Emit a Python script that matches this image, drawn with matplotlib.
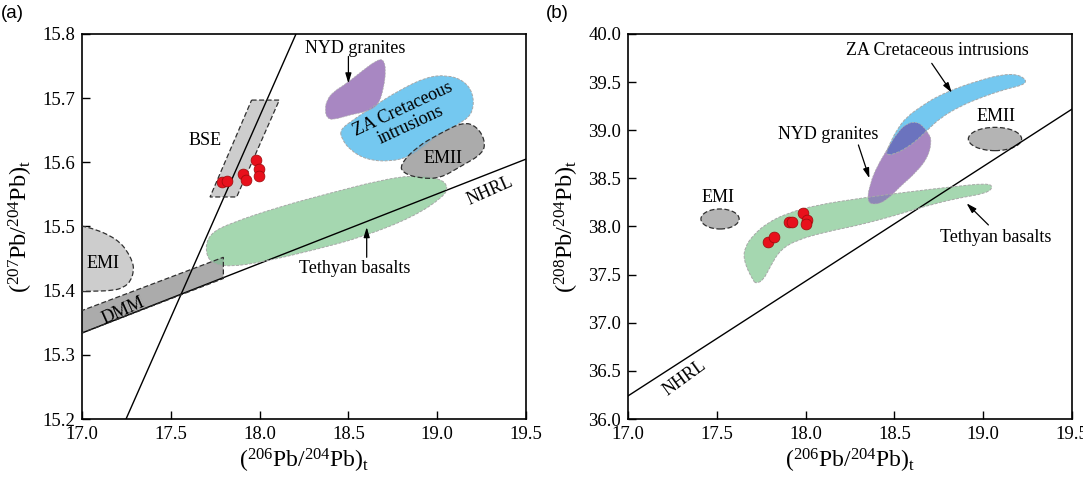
import numpy as np
import matplotlib
matplotlib.use("Agg")
import matplotlib.pyplot as plt
from matplotlib.path import Path
from matplotlib.patches import PathPatch, Ellipse

plt.rcParams['font.family'] = ['Liberation Serif', 'DejaVu Serif']
plt.rcParams['mathtext.fontset'] = 'custom'
plt.rcParams['mathtext.rm'] = 'Liberation Serif'
plt.rcParams['mathtext.it'] = 'Liberation Serif:italic'

# ---- panel (a): 206Pb/204Pb vs 207Pb/204Pb ----
xticks = [17.0, 17.5, 18.0, 18.5, 19.0, 19.5]
yticks_a = [15.2, 15.3, 15.4, 15.5, 15.6, 15.7, 15.8]
yticks_b = [36.0, 36.5, 37.0, 37.5, 38.0, 38.5, 39.0, 39.5, 40.0]

samples_a_x = [17.790, 17.815, 17.905, 17.923, 17.980, 17.997, 17.997]
samples_a_y = [15.570, 15.571, 15.582, 15.572, 15.604, 15.589, 15.579]

geochron_x = [17.248, 18.205]
geochron_y = [15.2, 15.8]
nhrl_a_x = [17.0, 19.5]
nhrl_a_y = [15.334, 15.605]

bse_x = [17.955, 18.111, 17.871, 17.721]
bse_y = [15.697, 15.697, 15.546, 15.546]

dmm_x = [16.99, 17.796, 17.796, 16.99]
dmm_y = [15.333, 15.419, 15.452, 15.368]

emi_a_x = [16.95, 17.0, 17.08, 17.156, 17.215, 17.253, 17.285, 17.292, 17.275, 17.235, 17.175, 17.04, 16.95]
emi_a_y = [15.502, 15.501, 15.495, 15.486, 15.475, 15.462, 15.445, 15.432, 15.415, 15.405, 15.400, 15.399, 15.399]

emii_a_x = [18.790, 18.884, 19.016, 19.147, 19.222, 19.269, 19.260, 19.128, 19.016, 18.903, 18.809]
emii_a_y = [15.596, 15.624, 15.645, 15.663, 15.656, 15.635, 15.614, 15.593, 15.575, 15.575, 15.583]

za_a_x = [18.453, 18.509, 18.640, 18.790, 18.941, 19.053, 19.147, 19.203, 19.203, 19.147,
          19.016, 18.922, 18.847, 18.734, 18.603, 18.509, 18.462]
za_a_y = [15.650, 15.663, 15.687, 15.713, 15.733, 15.736, 15.728, 15.708, 15.679, 15.663,
          15.645, 15.624, 15.609, 15.601, 15.604, 15.619, 15.637]

nyd_a_x = [18.378, 18.415, 18.490, 18.584, 18.659, 18.697, 18.712, 18.697, 18.668, 18.603,
           18.509, 18.415, 18.378, 18.368]
nyd_a_y = [15.697, 15.710, 15.723, 15.744, 15.759, 15.761, 15.744, 15.713, 15.689, 15.679,
           15.674, 15.666, 15.669, 15.682]

teth_a_x = [17.693, 17.721, 17.833, 18.115, 18.396, 18.678, 18.865, 19.016, 19.063, 19.034,
            18.865, 18.584, 18.302, 18.021, 17.833, 17.721]
teth_a_y = [15.466, 15.489, 15.505, 15.531, 15.552, 15.572, 15.580, 15.575, 15.562, 15.546,
            15.515, 15.484, 15.463, 15.445, 15.437, 15.443]

# ---- panel (b): 206Pb/204Pb vs 208Pb/204Pb ----
samples_b_x = [17.790, 17.822, 17.907, 17.922, 17.984, 18.006, 18.001]
samples_b_y = [37.842, 37.888, 38.044, 38.044, 38.144, 38.068, 38.026]

nhrl_b_x = [17.0, 19.5]
nhrl_b_y = [36.24, 39.22]

emi_b = (17.518, 38.078, 0.215, 0.208)
emii_b = (19.066, 38.909, 0.300, 0.242)

teth_b_x = [17.706, 17.649, 17.659, 17.706, 17.781, 17.894, 18.062, 18.306, 18.588, 18.832,
            19.020, 19.057, 19.020, 18.851, 18.663, 18.513, 18.306, 18.119, 17.950, 17.856,
            17.800, 17.762, 17.725]
teth_b_y = [37.427, 37.652, 37.790, 37.912, 38.033, 38.137, 38.223, 38.293, 38.362, 38.414,
            38.449, 38.414, 38.345, 38.293, 38.206, 38.119, 38.016, 37.946, 37.860, 37.756,
            37.582, 37.444, 37.410]

nyd_b_x = [18.344, 18.391, 18.457, 18.532, 18.626, 18.691, 18.710, 18.691, 18.663, 18.626,
           18.569, 18.513, 18.457, 18.401, 18.363]
nyd_b_y = [38.258, 38.223, 38.275, 38.414, 38.569, 38.725, 38.899, 38.968, 39.037, 39.089,
           39.072, 38.968, 38.795, 38.621, 38.449]

za_b_x = [18.447, 18.475, 18.513, 18.569, 18.663, 18.738, 18.869, 19.001, 19.095, 19.189,
          19.245, 19.226, 19.132, 19.001, 18.870, 18.760, 18.690, 18.640, 18.580, 18.500]
za_b_y = [38.743, 38.864, 39.003, 39.141, 39.262, 39.349, 39.452, 39.529, 39.574, 39.584,
          39.522, 39.470, 39.430, 39.350, 39.250, 39.130, 39.010, 38.920, 38.830, 38.750]

c_green = '#a5d7b0'
c_blue = '#74c8f0'
c_purple = '#a887c2'
c_lgray = '#cdcdcd'
c_gray = '#ababab'
c_red = '#e8101c'


def smooth_path(xs, ys):
    pts = np.column_stack([xs, ys])
    mids = (pts + np.roll(pts, -1, axis=0)) / 2
    verts = [mids[-1]]
    codes = [Path.MOVETO]
    for i in range(len(pts)):
        verts += [pts[i], mids[i]]
        codes += [Path.CURVE3, Path.CURVE3]
    return Path(verts, codes)


def field(ax, path, color, edge, ls, lw, z):
    fill = PathPatch(path, facecolor=color, edgecolor='none', zorder=z)
    ax.add_patch(fill)
    ax.add_patch(PathPatch(path, facecolor='none', edgecolor=edge,
                           linestyle=ls, lw=lw, zorder=5))
    return fill


def overlap(ax, path, color, clip):
    p = PathPatch(path, facecolor=color, edgecolor='none', zorder=3)
    ax.add_patch(p)
    p.set_clip_path(clip)


def arrow(ax, tail, head):
    ax.annotate('', xy=head, xytext=tail,
                arrowprops=dict(arrowstyle='-|>,head_width=0.18,head_length=0.6',
                                color='k', lw=0.9, shrinkA=0, shrinkB=0), zorder=6)


dash_k = (0, (4, 2))
dash_g = (0, (3, 1.5))

fig = plt.figure(figsize=(10.83, 4.82), dpi=100)
ax1 = fig.add_axes([0.0757, 0.1307, 0.410, 0.7988])
ax2 = fig.add_axes([0.5799, 0.1307, 0.410, 0.7988])

# panel a
p_teth = smooth_path(teth_a_x, teth_a_y)
p_za = smooth_path(za_a_x, za_a_y)
p_nyd = smooth_path(nyd_a_x, nyd_a_y)
p_emii = smooth_path(emii_a_x, emii_a_y)
p_emi = smooth_path(emi_a_x, emi_a_y)
p_bse = Path(np.column_stack([bse_x + bse_x[:1], bse_y + bse_y[:1]]), closed=True)
p_dmm = Path(np.column_stack([dmm_x + dmm_x[:1], dmm_y + dmm_y[:1]]), closed=True)

f_teth = field(ax1, p_teth, c_green, '#a8a8a8', dash_g, 0.7, 2)
f_za = field(ax1, p_za, c_blue, '#a8a8a8', dash_g, 0.7, 2)
f_nyd = field(ax1, p_nyd, c_purple, '#b0b0b0', dash_g, 0.5, 2)
f_emii = field(ax1, p_emii, c_gray, '#303030', dash_k, 0.9, 2)
field(ax1, p_emi, c_lgray, '#303030', dash_k, 0.9, 2)
field(ax1, p_bse, c_lgray, '#303030', dash_k, 0.9, 2)
f_dmm = field(ax1, p_dmm, c_gray, '#303030', dash_k, 0.9, 2)
overlap(ax1, p_emii, '#8db79a', f_teth)
overlap(ax1, p_dmm, '#8db79a', f_teth)
overlap(ax1, p_emii, '#7eb0cc', f_za)
overlap(ax1, p_nyd, '#8a7fc6', f_za)

ax1.plot(geochron_x, geochron_y, color='k', lw=1.0, zorder=4)
ax1.plot(nhrl_a_x, nhrl_a_y, color='k', lw=1.0, zorder=4)
ax1.plot(samples_a_x, samples_a_y, 'o', ms=7.8, mfc=c_red, mec='#9a0a0a', mew=0.5, zorder=7)

fs = 13
ax1.text(18.54, 15.777, 'NYD granites', fontsize=fs, ha='center', va='center')
arrow(ax1, (18.500, 15.765), (18.500, 15.723))
ax1.text(17.693, 15.634, 'BSE', fontsize=fs, ha='center', va='center')
ax1.text(18.83, 15.671, 'ZA Cretaceous\nintrusions', fontsize=fs, ha='center', va='center',
         rotation=25, rotation_mode='anchor', linespacing=1.05, zorder=8)
ax1.text(19.03, 15.606, 'EMII', fontsize=fs, ha='center', va='center', zorder=8)
ax1.text(17.117, 15.442, 'EMI', fontsize=fs, ha='center', va='center', zorder=8)
ax1.text(17.235, 15.368, 'DMM', fontsize=fs, ha='center', va='center',
         rotation=24, rotation_mode='anchor', zorder=8)
ax1.text(19.30, 15.556, 'NHRL', fontsize=fs, ha='center', va='center',
         rotation=24, rotation_mode='anchor', zorder=8)
ax1.text(18.537, 15.435, 'Tethyan basalts', fontsize=fs, ha='center', va='center', zorder=8)
arrow(ax1, (18.603, 15.452), (18.603, 15.499))

ax1.set_xlim(17.0, 19.5)
ax1.set_ylim(15.2, 15.8)
ax1.set_yticks(yticks_a)
ax1.set_ylabel(r'($^{207}$Pb/$^{204}$Pb)$_{\mathrm{t}}$', fontsize=17.5, labelpad=5)

# panel b
q_teth = smooth_path(teth_b_x, teth_b_y)
q_za = smooth_path(za_b_x, za_b_y)
q_nyd = smooth_path(nyd_b_x, nyd_b_y)

g_teth = field(ax2, q_teth, c_green, '#a8a8a8', dash_g, 0.7, 2)
g_nyd = field(ax2, q_nyd, c_purple, '#b0b0b0', dash_g, 0.5, 2)
g_za = field(ax2, q_za, c_blue, '#a8a8a8', dash_g, 0.7, 2)
overlap(ax2, q_nyd, '#6b73be', g_za)
overlap(ax2, q_nyd, '#8d88b6', g_teth)
for cx, cy, w, h in [emi_b, emii_b]:
    ax2.add_patch(Ellipse((cx, cy), w, h, facecolor='#b4b4b4', edgecolor='#303030',
                          linestyle=dash_k, lw=0.9, zorder=2))

ax2.plot(nhrl_b_x, nhrl_b_y, color='k', lw=1.0, zorder=4)
ax2.plot(samples_b_x, samples_b_y, 'o', ms=7.8, mfc=c_red, mec='#9a0a0a', mew=0.5, zorder=7)

ax2.text(18.74, 39.83, 'ZA Cretaceous intrusions', fontsize=fs, ha='center', va='center')
arrow(ax2, (18.710, 39.695), (18.823, 39.390))
ax2.text(19.07, 39.14, 'EMII', fontsize=fs, ha='center', va='center')
ax2.text(18.126, 38.951, 'NYD granites', fontsize=fs, ha='center', va='center')
arrow(ax2, (18.297, 38.847), (18.359, 38.501))
ax2.text(17.504, 38.303, 'EMI', fontsize=fs, ha='center', va='center')
ax2.text(19.07, 37.89, 'Tethyan basalts', fontsize=fs, ha='center', va='center')
arrow(ax2, (19.029, 38.016), (18.906, 38.241))
ax2.text(17.321, 36.423, 'NHRL', fontsize=fs, ha='center', va='center',
         rotation=36, rotation_mode='anchor')

ax2.set_xlim(17.0, 19.5)
ax2.set_ylim(36.0, 40.0)
ax2.set_yticks(yticks_b)
ax2.set_ylabel(r'($^{208}$Pb/$^{204}$Pb)$_{\mathrm{t}}$', fontsize=17.5, labelpad=5)

for ax in (ax1, ax2):
    ax.set_xticks(xticks)
    ax.xaxis.set_major_formatter(matplotlib.ticker.FormatStrFormatter('%.1f'))
    ax.yaxis.set_major_formatter(matplotlib.ticker.FormatStrFormatter('%.1f'))
    ax.tick_params(direction='in', length=6, width=1.0, labelsize=13.5, pad=5)
    ax.set_xlabel(r'($^{206}$Pb/$^{204}$Pb)$_{\mathrm{t}}$', fontsize=17, labelpad=3)
    for s in ax.spines.values():
        s.set_linewidth(1.2)

fig.text(0.001, 0.99, '(a)', fontsize=13.5, family=['Liberation Sans', 'DejaVu Sans'],
         ha='left', va='top')
fig.text(0.504, 0.99, '(b)', fontsize=13.5, family=['Liberation Sans', 'DejaVu Sans'],
         ha='left', va='top')

fig.savefig('out.png', dpi=100)
